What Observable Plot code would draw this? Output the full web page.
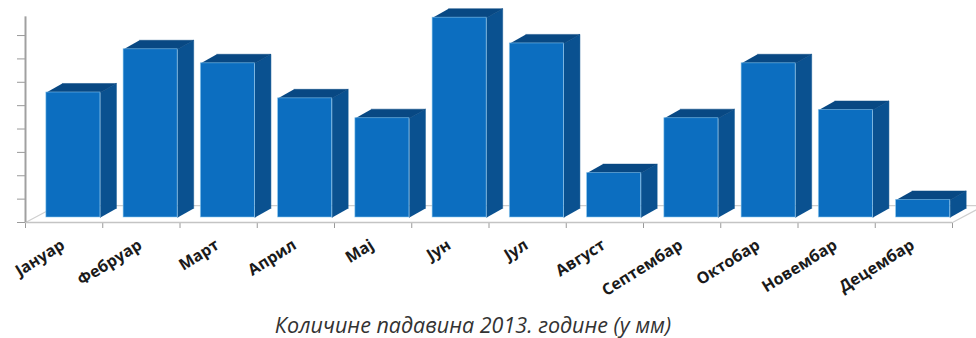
<!DOCTYPE html>
<html><head><meta charset="utf-8">
<script src="https://cdn.jsdelivr.net/npm/d3@7"></script>
<script src="https://cdn.jsdelivr.net/npm/@observablehq/plot@0.6"></script>
<style>
body{margin:0;background:#fff;}
#wrap{position:relative;width:976px;height:338px;overflow:hidden;background:#fff;}
#caption{position:absolute;left:473px;top:313px;transform:translateX(-50%);font-family:"Open Sans";font-style:italic;font-size:21.5px;line-height:24px;color:#333;white-space:nowrap;}
</style></head><body>
<div id="wrap"><div id="chart"></div><div id="caption"></div></div>
<script>
// Data
const months = ["Јануар","Фебруар","Март","Април","Мај","Јун","Јул","Август","Септембар","Октобар","Новембар","Децембар"];
const rainfall = [107,144,132,102,85,171,149,38,85,132,92,15];
const yTicks = [0,20,40,60,80,100,120,140,160];
const captionText = "Количине падавина 2013. године (у мм)";

// Style / layout constants
const FRONT = "#0c6ec0", SIDE = "#0a5190", TOP = "#084883";
const barL = 0.27, barR = 0.97;          // bar front face within category (x units)
const depthX = 0.207, depthY = 7.7;      // bar depth (x units, y units)
const floorX = 0.414, floorY = 14.5;     // floor depth

const bars = months.map((m, i) => ({i, m, v: rainfall[i]}));
const sides = bars.flatMap(d => {
  const x2 = d.i + barR;
  return [[x2,0],[x2,d.v],[x2+depthX,d.v+depthY],[x2+depthX,depthY]].map(([x,y]) => ({id: d.i, x, y}));
});
const tops = bars.flatMap(d => {
  const x1 = d.i + barL, x2 = d.i + barR;
  return [[x1,d.v],[x2,d.v],[x2+depthX,d.v+depthY],[x1+depthX,d.v+depthY]].map(([x,y]) => ({id: d.i, x, y}));
});
const n = months.length;
const floor = [[0,0],[floorX,floorY],[n+floorX,floorY],[n,0]].map(([x,y]) => ({x, y}));

const chart = Plot.plot({
  width: 976, height: 300,
  marginLeft: 25, marginRight: 24, marginTop: 0, marginBottom: 78,
  style: {color: "#9a9a9a", background: "transparent"},
  x: {domain: [0, n], ticks: d3.range(n + 1), tickSize: 6, tickFormat: () => "", label: null},
  y: {domain: [0, 190], ticks: yTicks, tickSize: 8, tickFormat: () => "", label: null},
  marks: [
    Plot.line(floor, {x: "x", y: "y", stroke: "#cfcfcf", strokeWidth: 1.2}),
    Plot.ruleY([0], {x1: 0, x2: n, stroke: "#c4c4c4", strokeWidth: 1.5}),
    Plot.ruleX([0], {y1: 0, y2: 176, stroke: "#a0a0a0", strokeWidth: 2}),
    Plot.line(sides, {x: "x", y: "y", z: "id", fill: SIDE, stroke: SIDE, strokeWidth: 0.5, dy: -5}),
    Plot.line(tops, {x: "x", y: "y", z: "id", fill: TOP, stroke: TOP, strokeWidth: 0.5, dy: -5}),
    Plot.rect(bars, {x1: d => d.i + barL, x2: d => d.i + barR, y1: 0, y2: "v", dy: -5, fill: FRONT, stroke: "#8cc8ef", strokeWidth: 0.8, strokeOpacity: 0.7}),
    Plot.text(bars, {x: d => d.i + 0.5, y: 0, text: "m", rotate: -32, textAnchor: "end", dx: -1, dy: 21,
      fontSize: 16, fontWeight: 700, fontFamily: "Open Sans", fill: "#1a1a1a"})
  ]
});
document.getElementById("chart").appendChild(chart);
document.getElementById("caption").textContent = captionText;
</script>
</body></html>
